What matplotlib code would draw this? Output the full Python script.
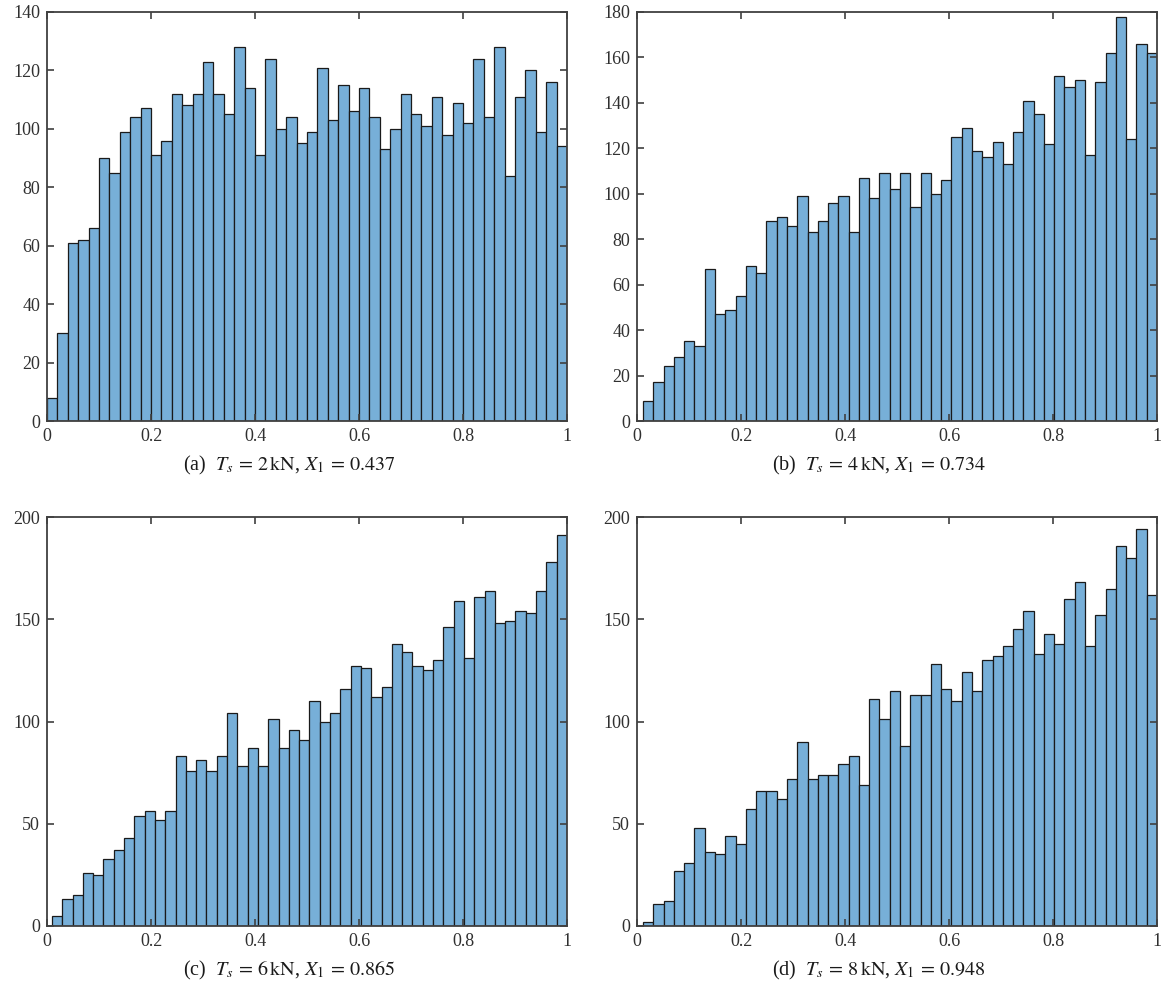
import numpy as np
import matplotlib
matplotlib.use("Agg")
import matplotlib.pyplot as plt

plt.rcParams["font.family"] = "Liberation Serif"
plt.rcParams["mathtext.fontset"] = "stix"

# bin counts (50 bins each)
counts_a = [8, 30, 61, 62, 66, 90, 85, 99, 104, 107, 91, 96, 112, 108, 112, 123, 112, 105, 128, 114,
            91, 124, 100, 104, 95, 99, 121, 103, 115, 106, 114, 104, 93, 100, 112, 105, 101, 111, 98, 109,
            102, 124, 104, 128, 84, 111, 120, 99, 116, 94]
counts_b = [9, 17, 24, 28, 35, 33, 67, 47, 49, 55, 68, 65, 88, 90, 86, 99, 83, 88, 96, 99,
            83, 107, 98, 109, 102, 109, 94, 109, 100, 106, 125, 129, 119, 116, 123, 113, 127, 141, 135, 122,
            152, 147, 150, 117, 149, 162, 178, 124, 166, 162]
counts_c = [5, 13, 15, 26, 25, 33, 37, 43, 54, 56, 52, 56, 83, 76, 81, 76, 83, 104, 78, 87,
            78, 101, 87, 96, 91, 110, 100, 104, 116, 127, 126, 112, 117, 138, 134, 127, 125, 130, 146, 159,
            131, 161, 164, 148, 149, 154, 153, 164, 178, 191]
counts_d = [2, 11, 12, 27, 31, 48, 36, 35, 44, 40, 57, 66, 66, 62, 72, 90, 72, 74, 74, 79,
            83, 69, 111, 101, 115, 88, 113, 113, 128, 116, 110, 124, 115, 130, 132, 137, 145, 154, 133, 143,
            138, 160, 168, 137, 152, 165, 186, 180, 194, 162]

# lower end of the binned range in each panel (upper end is 1)
bin_start = [0.0, 0.0115, 0.0095, 0.0115]

captions = [r"(a)  $T_s\,=\,2\,\mathrm{kN}$, $X_1\,=\,0.437$",
            r"(b)  $T_s\,=\,4\,\mathrm{kN}$, $X_1\,=\,0.734$",
            r"(c)  $T_s\,=\,6\,\mathrm{kN}$, $X_1\,=\,0.865$",
            r"(d)  $T_s\,=\,8\,\mathrm{kN}$, $X_1\,=\,0.948$"]
y_max = [140, 180, 200, 200]
y_step = [20, 20, 50, 50]

all_counts = [counts_a, counts_b, counts_c, counts_d]

fig = plt.figure(figsize=(11.64, 10), dpi=100)

# axes boxes in figure fractions [left, bottom, width, height]
boxes = [[0.0404, 0.579, 0.4467, 0.409],
         [0.5473, 0.579, 0.4467, 0.409],
         [0.0404, 0.074, 0.4467, 0.409],
         [0.5473, 0.074, 0.4467, 0.409]]

face = "#77AFD8"
axis_col = "#404040"

for i in range(4):
    ax = fig.add_axes(boxes[i])
    edges = np.linspace(bin_start[i], 1, len(all_counts[i]) + 1)
    ax.bar(edges[:-1], all_counts[i], width=np.diff(edges), align="edge",
           color=face, edgecolor="#1a1a1a", linewidth=0.9)

    ax.set_xlim(0, 1)
    ax.set_ylim(0, y_max[i])
    ax.set_xticks(np.arange(0, 1.01, 0.2))
    ax.set_xticklabels(["0", "0.2", "0.4", "0.6", "0.8", "1"])
    ax.set_yticks(np.arange(0, y_max[i] + 1, y_step[i]))

    ax.tick_params(direction="in", top=True, right=True, length=5, width=1.2,
                   color=axis_col, labelsize=13, labelcolor="#303030", pad=5)
    for s in ax.spines.values():
        s.set_color(axis_col)
        s.set_linewidth(1.3)

    ax.text(0.465, -0.108, captions[i], transform=ax.transAxes, ha="center", va="center",
            fontsize=14.5, color="#1a1a1a")

fig.savefig("out.png", dpi=100)
